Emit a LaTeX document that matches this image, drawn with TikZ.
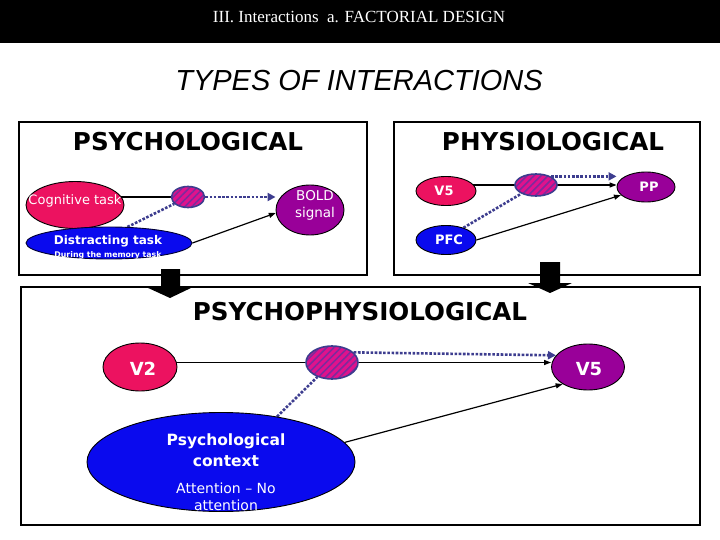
\documentclass[tikz,border=0pt]{standalone}
\usepackage{fontspec}
\newfontfamily\vfont{DejaVu Sans}
\newfontfamily\hfont{Liberation Serif}
\newfontfamily\ifont{Liberation Sans}
\usetikzlibrary{shapes.geometric,arrows.meta,patterns.meta,backgrounds}
\definecolor{crim}{HTML}{EC1260}
\definecolor{purp}{HTML}{990099}
\definecolor{blu}{HTML}{0A0AEE}
\definecolor{dotc}{HTML}{3D3D8F}
\definecolor{hmag}{HTML}{E0128C}
\definecolor{hstr}{HTML}{7E2A9C}
\tikzset{
  ell/.style={ellipse, draw=black, line width=0.9pt, inner sep=0pt},
  lab/.style={text=white, inner sep=0pt, align=center, font=\vfont\fontsize{13}{17}\selectfont},
  labb/.style={lab, font=\vfont\bfseries\fontsize{13}{15}\selectfont},
  labB/.style={lab, font=\vfont\bfseries\fontsize{18}{20}\selectfont},
  hatch/.style={ellipse, draw=dotc, line width=1.6pt, inner sep=0pt, preaction={fill=hmag},
    pattern={Lines[angle=45,distance=5pt,line width=1.6pt]}, pattern color=hstr},
  panel/.style={draw=black, line width=1.6pt},
  ptitle/.style={font=\vfont\bfseries\fontsize{24.6}{28}\selectfont},
  dotl/.style={draw=dotc, line width=2.6pt, dash pattern=on 2.6pt off 1.6pt},
  dotarr/.style={dotl, -{Triangle[length=8pt,width=8pt]}},
  sline/.style={draw=black, line width=1.2pt},
  sarr/.style={sline, -{Triangle[length=7pt,width=5pt]}},
  blockarrow/.style={fill=black}
}
\begin{document}
\begin{tikzpicture}[x=1pt,y=-1pt]
\useasboundingbox (0,0) rectangle (720,540);
% header
\fill[black] (0,0) rectangle (720,43);
\node[font=\hfont\fontsize{17}{20}\selectfont, text=white] (hdr) at (359,17) {III. Interactions\enspace a. FACTORIAL DESIGN};
\node[font=\ifont\itshape\fontsize{29}{33}\selectfont] (ttl) at (359,81) {TYPES OF INTERACTIONS};

% panels
\draw[panel] (19,122) rectangle (367,275);
\draw[panel] (394,122) rectangle (700,275);
\draw[panel] (21,287) rectangle (700,525);

\node[ptitle] (t1) at (188,142) {PSYCHOLOGICAL};
\node[ptitle] (t2) at (553,142) {PHYSIOLOGICAL};
\node[ptitle] (t3) at (360,312) {PSYCHOPHYSIOLOGICAL};

% block arrows
\fill[blockarrow] (161,269) -- (180,269) -- (180,287) -- (193,287) -- (170,298) -- (146,287) -- (161,287) -- cycle;
\fill[blockarrow] (540,262) -- (560,262) -- (560,283) -- (572,283) -- (550,293) -- (528,283) -- (540,283) -- cycle;

% psychological panel
\node[ell, fill=crim, minimum width=98pt, minimum height=47pt] (cog) at (75,205) {};
\node[lab] (cogt) at (75,201) {Cognitive task};
\node[ell, fill=blu, draw=black!80!blue, minimum width=166pt, minimum height=32pt] (dis) at (109,243) {};
\node[lab, font=\vfont\bfseries\fontsize{12}{14}\selectfont] (dist1) at (108,241) {Distracting task};
\node[lab, font=\vfont\bfseries\fontsize{7.8}{9}\selectfont] (dist2) at (108,255.5) {During the memory task};
\node[hatch, minimum width=33pt, minimum height=21pt] (hA) at (188,197) {};
\node[ell, fill=purp, minimum width=68pt, minimum height=50pt] (bold) at (310,210) {};
\node[lab, font=\vfont\fontsize{13.5}{17}\selectfont] (boldt) at (315,205.5) {BOLD\\signal};

% physiological panel
\node[ell, fill=crim, minimum width=60pt, minimum height=29pt] (v5a) at (446,191) {};
\node[labb] (v5at) at (444,191) {V5};
\node[hatch, minimum width=42pt, minimum height=22pt] (hB) at (536,185) {};
\node[ell, fill=purp, minimum width=58pt, minimum height=30pt] (pp) at (646,187) {};
\node[labb] (ppt) at (649,187) {PP};
\node[ell, fill=blu, minimum width=60pt, minimum height=29pt] (pfc) at (446,240) {};
\node[labb] (pfct) at (449,240) {PFC};

% psychophysiological panel
\node[ell, fill=crim, minimum width=74pt, minimum height=48pt] (v2) at (140,367) {};
\node[labB] (v2t) at (143,369) {V2};
\node[hatch, minimum width=52pt, minimum height=33pt] (hC) at (332,362.5) {};
\node[ell, fill=purp, minimum width=73pt, minimum height=46pt] (v5b) at (588,367) {};
\node[labB] (v5bt) at (589,369) {V5};
\node[ell, fill=blu, minimum width=268pt, minimum height=99pt] (ctx) at (221,462) {};
\node[lab, font=\vfont\bfseries\fontsize{15.5}{21}\selectfont] (ctx1) at (226,450.5) {Psychological\\context};
\node[lab, font=\vfont\fontsize{14}{17}\selectfont] (ctx2) at (226,496.5) {Attention – No\\attention};

% connectors (under the nodes)
\begin{pgfonlayer}{background}
  \draw[sline] (cog |- hA) -- (hA);
  \draw[dotarr] (hA.east) -- (hA.east -| bold.west);
  \draw[dotl] (dis.41) -- (hA);
  \draw[sarr] (dis.east) -- (bold.185);

  \draw[sarr] (v5a |- hB) -- (hB -| pp.west);
  \draw[dotarr] (hB.30) -- (hB.30 -| pp.west);
  \draw[dotl] (pfc.35) -- (hB);
  \draw[sarr] (pfc.east) -- (pp.198);

  \draw[sarr] (v2 |- hC) -- (hC -| v5b.west);
  \draw[dotarr] (hC.25) -- (v5b.160);
  \draw[dotl] (ctx.39) -- (hC);
  \draw[sarr] (ctx.9) -- (v5b.214);
\end{pgfonlayer}
\end{tikzpicture}
\end{document}
